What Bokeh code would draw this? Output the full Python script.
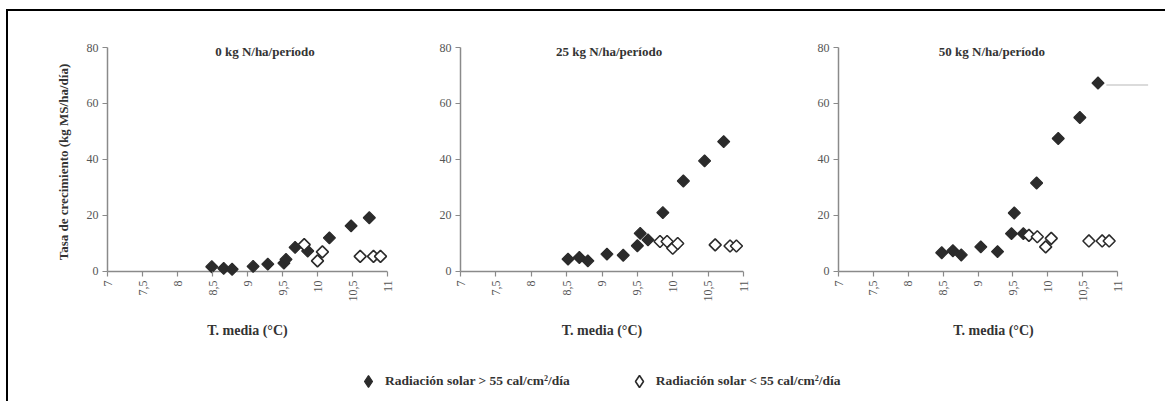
import numpy as np
from bokeh.plotting import figure
from bokeh.layouts import row, column
from bokeh.models import FixedTicker, Legend, LegendItem, Range1d, Label
from bokeh.embed import file_html
from bokeh.resources import INLINE

# Axis ticks
x_ticks = [7, 7.5, 8, 8.5, 9, 9.5, 10, 10.5, 11]
x_tick_labels = ["7", "7,5", "8", "8,5", "9", "9,5", "10", "10,5", "11"]
y_ticks = [0, 20, 40, 60, 80]

panel_titles = ["0 kg N/ha/período", "25 kg N/ha/período", "50 kg N/ha/período"]
series_labels = ["Radiación solar > 55 cal/cm²/día", "Radiación solar < 55 cal/cm²/día"]

# 0 kg N/ha/periodo
n0_hi_t = [8.49, 8.66, 8.78, 9.08, 9.29, 9.52, 9.55, 9.68, 9.86, 10.17, 10.48, 10.74]
n0_hi_g = [1.7, 1.1, 0.8, 1.8, 2.6, 3.0, 4.3, 8.6, 7.3, 12.0, 16.3, 19.2]
n0_lo_t = [9.81, 10.0, 10.07, 10.61, 10.80, 10.90]
n0_lo_g = [9.6, 3.8, 7.0, 5.4, 5.4, 5.4]

# 25 kg N/ha/periodo
n25_hi_t = [8.52, 8.68, 8.80, 9.07, 9.30, 9.50, 9.54, 9.65, 9.86, 10.15, 10.45, 10.72]
n25_hi_g = [4.4, 5.0, 3.8, 6.2, 5.8, 9.2, 13.6, 11.3, 21.0, 32.3, 39.5, 46.4]
n25_lo_t = [9.82, 9.92, 10.0, 10.07, 10.60, 10.81, 10.90]
n25_lo_g = [10.7, 10.7, 8.3, 10.0, 9.5, 9.1, 9.1]

# 50 kg N/ha/periodo
n50_hi_t = [8.48, 8.64, 8.76, 9.04, 9.28, 9.48, 9.52, 9.65, 9.84, 10.15, 10.46, 10.72]
n50_hi_g = [6.7, 7.4, 5.9, 8.8, 7.1, 13.5, 20.9, 13.5, 31.6, 47.5, 55.0, 67.3]
n50_lo_t = [9.73, 9.85, 9.97, 10.05, 10.59, 10.78, 10.88]
n50_lo_g = [12.9, 12.4, 8.8, 11.8, 10.9, 10.9, 10.9]

# thin grey reference line next to the last 50 kg point
n50_ref_t = [10.84, 11.44]
n50_ref_g = [66.6, 66.6]

FONT = "Liberation Serif"
DARK = "#2b2b2b"
AXIS = "#8a8a8a"
TEXT = "#333333"
MARK = 8.5


def add_markers(p, hi_t, hi_g, lo_t, lo_g):
    p.scatter(hi_t, hi_g, marker="square", angle=np.pi / 4, size=MARK,
              fill_color=DARK, line_color=DARK, line_width=1.2)
    p.scatter(lo_t, lo_g, marker="square", angle=np.pi / 4, size=MARK,
              fill_color="white", line_color=DARK, line_width=1.6)


def make_panel(title, hi_t, hi_g, lo_t, lo_g, width, left, right,
               ylabel=None, x_end=11.0, title_x=9.15):
    p = figure(width=width, height=350,
               x_range=Range1d(7, x_end), y_range=Range1d(-1.8, 80),
               output_backend="svg", toolbar_location=None,
               min_border_left=left, min_border_right=right,
               min_border_top=47, min_border_bottom=74,
               background_fill_color=None, border_fill_color=None,
               outline_line_color=None)
    p.grid.visible = False

    # x axis: ticks hang from the zero line down to the frame edge
    xa = p.xaxis[0]
    xa.ticker = FixedTicker(ticks=x_ticks)
    xa.major_label_overrides = {t: lab for t, lab in zip(x_ticks, x_tick_labels)}
    xa.major_label_orientation = np.pi / 2
    xa.axis_line_color = None
    xa.major_tick_in = 5
    xa.major_tick_out = 0
    xa.axis_label = "T. media (°C)"
    xa.axis_label_standoff = 18
    xa.axis_label_text_font_size = "14px"
    p.line([x_ticks[0], x_ticks[-1]], [y_ticks[0], y_ticks[0]],
           line_color=AXIS, line_width=1.5)

    ya = p.yaxis[0]
    ya.bounds = (y_ticks[0], y_ticks[-1])
    ya.ticker = FixedTicker(ticks=y_ticks)
    ya.axis_line_color = AXIS
    ya.axis_line_width = 1.5
    ya.major_tick_in = 0
    ya.major_tick_out = 5
    ya.axis_label_text_font_size = "13px"
    if ylabel:
        ya.axis_label = ylabel
        ya.axis_label_standoff = 13

    for ax in (xa, ya):
        ax.major_tick_line_color = AXIS
        ax.major_tick_line_width = 1.2
        ax.minor_tick_line_color = None
        ax.major_label_text_font = FONT
        ax.major_label_text_font_size = "12px"
        ax.major_label_text_color = "#555555"
        ax.major_label_standoff = 4
        ax.axis_label_text_font = FONT
        ax.axis_label_text_font_style = "bold"
        ax.axis_label_text_color = TEXT

    add_markers(p, hi_t, hi_g, lo_t, lo_g)

    p.add_layout(Label(x=title_x, y=78.6, text=title, text_font=FONT,
                       text_font_style="bold", text_font_size="13px",
                       text_color=TEXT, text_align="center",
                       text_baseline="middle"))
    return p


f1 = make_panel(panel_titles[0], n0_hi_t, n0_hi_g, n0_lo_t, n0_lo_g,
                width=395, left=107, right=8,
                ylabel="Tasa de crecimiento (kg MS/ha/día)", title_x=9.25)
f2 = make_panel(panel_titles[1], n25_hi_t, n25_hi_g, n25_lo_t, n25_lo_g,
                width=375, left=65, right=27, title_x=9.1)
f3 = make_panel(panel_titles[2], n50_hi_t, n50_hi_g, n50_lo_t, n50_lo_g,
                width=395, left=68, right=17, x_end=11.444, title_x=9.2)
f3.line(n50_ref_t, n50_ref_g, line_color="#cfcfcf", line_width=1.5)

# legend strip below the panels
leg = figure(width=1165, height=51, x_range=Range1d(0, 1), y_range=Range1d(0, 1),
             output_backend="svg", toolbar_location=None, min_border=0,
             x_axis_type=None, y_axis_type=None, outline_line_color=None,
             background_fill_color=None, border_fill_color=None)
leg.grid.visible = False
r_hi = leg.scatter(x=[np.nan], y=[np.nan], marker="diamond", size=15,
                   fill_color=DARK, line_color=DARK, line_width=1.2)
r_lo = leg.scatter(x=[np.nan], y=[np.nan], marker="diamond", size=14,
                   fill_color="white", line_color=DARK, line_width=1.6)
legend = Legend(items=[LegendItem(label=series_labels[0], renderers=[r_hi]),
                       LegendItem(label=series_labels[1], renderers=[r_lo])],
                orientation="horizontal", location=(353, 5),
                padding=0, margin=0, spacing=54,
                glyph_width=30, glyph_height=30, label_height=14,
                label_standoff=2,
                label_text_font=FONT, label_text_font_style="bold",
                label_text_font_size="13.5px", label_text_color=TEXT,
                border_line_color=None, background_fill_color=None)
leg.add_layout(legend)

frame_bg = ("linear-gradient(#000,#000) 6px 9px / 2px 100% no-repeat, "
            "linear-gradient(#000,#000) 6px 9px / 100% 2px no-repeat, #ffffff")
layout = column(row(f1, f2, f3), leg, styles={"background": frame_bg})

open("out.html", "w").write(file_html(layout, INLINE))
